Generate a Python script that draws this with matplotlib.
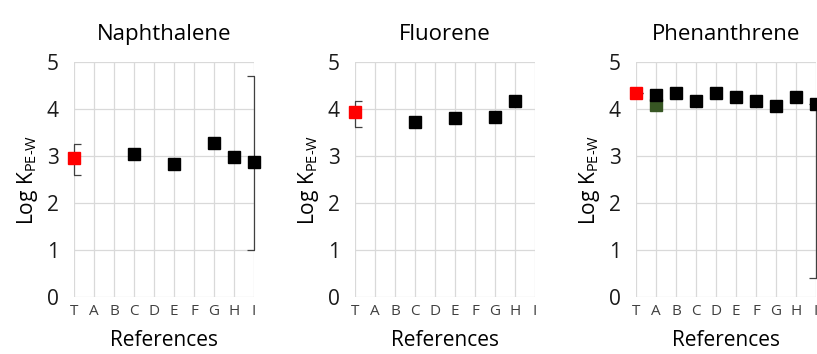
import numpy as np
import matplotlib
matplotlib.use('Agg')
import matplotlib.pyplot as plt

plt.rcParams['font.family'] = ['Open Sans', 'DejaVu Sans']
plt.rcParams['mathtext.fontset'] = 'custom'
plt.rcParams['mathtext.rm'] = 'Open Sans'

nan = np.nan
refs = ['T', 'A', 'B', 'C', 'D', 'E', 'F', 'G', 'H', 'I']
compounds = ['Naphthalene', 'Fluorene', 'Phenanthrene']

# this study (T) with its measured range
this_study = [2.95, 3.93, 4.35]
this_low = [2.60, 3.61, 4.35]
this_high = [3.26, 4.18, 4.35]

# literature values A..I
naph_lit = [nan, nan, nan, 3.05, nan, 2.83, nan, 3.27, 2.98, 2.87]
fluor_lit = [nan, nan, nan, 3.72, nan, 3.80, nan, 3.82, 4.18, nan]
phen_lit = [nan, 4.29, 4.33, 4.16, 4.33, 4.25, 4.16, 4.06, 4.25, 4.11]
literature = [naph_lit, fluor_lit, phen_lit]

# second value reported by ref A for phenanthrene
phen_A2 = 4.08

# ranges quoted by ref I
I_low = [1.00, nan, 0.40]
I_high = [4.71, nan, 4.11]

fig = plt.figure(figsize=(8.17, 3.54), dpi=100)
lefts = [74, 355, 636]
x = np.arange(len(refs))


def range_bar(ax, xpos, val, lo, hi):
    eb = ax.errorbar(xpos, val, yerr=[[val - lo], [hi - val]],
                     fmt='none', ecolor='#404040', elinewidth=0.9, capsize=5,
                     capthick=0.9, zorder=2)
    # keep the stem visible on the axes edge, caps stay clipped
    for lc in eb[2]:
        lc.set_clip_on(False)


for k in range(3):
    ax = fig.add_axes([lefts[k] / 817, 57 / 354, 180 / 817, 235 / 354])
    ax.set_xlim(0, 9)
    ax.set_ylim(0, 5)
    ax.set_xticks(x)
    ax.set_xticklabels(refs, fontsize=11, color='#404040')
    ax.set_yticks(range(6))
    ax.tick_params(axis='y', labelsize=15, length=0, pad=11, labelcolor='#1a1a1a')
    ax.tick_params(axis='x', length=0, pad=5)
    ax.grid(True, color='#d9d9d9', linewidth=0.9)
    ax.set_axisbelow(True)
    for s in ax.spines.values():
        s.set_visible(False)

    lit = np.array(literature[k])
    if k == 2:
        ax.plot(x[1], phen_A2, 's', color='#375623', markersize=8,
                clip_on=False, zorder=3)
    ax.plot(x, lit, 's', color='black', markersize=8.5, clip_on=False, zorder=4)

    range_bar(ax, 0, this_study[k], this_low[k], this_high[k])
    ax.plot(0, this_study[k], 's', color='#ff0000', markersize=8.5,
            clip_on=False, zorder=5)

    if not np.isnan(I_low[k]):
        range_bar(ax, 9, lit[9], I_low[k], I_high[k])

    ax.set_title(compounds[k], fontsize=16, pad=16, color='black')
    ax.set_xlabel('References', fontsize=15, labelpad=8, color='black')
    ax.set_ylabel(r'Log K$_{\mathregular{PE\text{-}W}}$', fontsize=15,
                  labelpad=5, color='black')

fig.savefig('out.png', dpi=100)
